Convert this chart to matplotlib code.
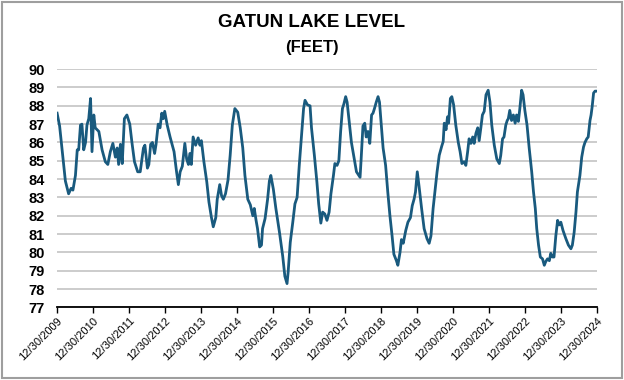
import matplotlib
matplotlib.use("Agg")
import matplotlib.pyplot as plt
import matplotlib.dates as mdates
from matplotlib.patches import Rectangle
import pandas as pd

# ── data: years elapsed since 12/30/2009, lake level in feet ─────────────────
elapsed_years = [
    0.00, 0.07, 0.17, 0.23, 0.32, 0.39, 0.44, 0.51, 0.56, 0.60, 0.65, 0.69, 0.74, 0.79,
    0.83, 0.88, 0.93, 0.97, 1.02, 1.06, 1.16, 1.25, 1.34, 1.41, 1.48, 1.55, 1.62, 1.67,
    1.71, 1.76, 1.81, 1.87, 1.94, 2.02, 2.08, 2.15, 2.24, 2.31, 2.40, 2.44, 2.51, 2.55,
    2.60, 2.65, 2.71, 2.75, 2.81, 2.86, 2.91, 2.95, 2.99, 3.06, 3.14, 3.25, 3.32, 3.37,
    3.42, 3.48, 3.55, 3.60, 3.65, 3.69, 3.73, 3.78, 3.85, 3.92, 3.97, 4.01, 4.08, 4.16,
    4.22, 4.29, 4.34, 4.41, 4.45, 4.52, 4.57, 4.62, 4.68, 4.75, 4.81, 4.87, 4.94, 5.02,
    5.09, 5.16, 5.22, 5.30, 5.37, 5.44, 5.48, 5.53, 5.57, 5.63, 5.68, 5.71, 5.78, 5.85,
    5.90, 5.94, 6.01, 6.08, 6.18, 6.27, 6.33, 6.39, 6.42, 6.48, 6.55, 6.61, 6.67, 6.73,
    6.80, 6.85, 6.89, 6.96, 7.03, 7.07, 7.15, 7.22, 7.27, 7.33, 7.38, 7.44, 7.50, 7.56,
    7.61, 7.68, 7.72, 7.78, 7.83, 7.88, 7.93, 7.97, 8.02, 8.06, 8.11, 8.18, 8.25, 8.32,
    8.42, 8.45, 8.50, 8.55, 8.59, 8.64, 8.69, 8.74, 8.78, 8.82, 8.87, 8.92, 8.96, 9.01,
    9.06, 9.13, 9.19, 9.25, 9.31, 9.36, 9.43, 9.47, 9.53, 9.57, 9.62, 9.69, 9.75, 9.82,
    9.87, 9.92, 9.96, 10.01, 10.06, 10.13, 10.20, 10.28, 10.34, 10.39, 10.45, 10.51,
    10.56, 10.62, 10.69, 10.73, 10.76, 10.81, 10.85, 10.88, 10.93, 10.97, 11.02, 11.08,
    11.15, 11.20, 11.25, 11.31, 11.36, 11.41, 11.45, 11.50, 11.55, 11.59, 11.64, 11.69,
    11.73, 11.78, 11.82, 11.87, 11.92, 11.98, 12.03, 12.08, 12.15, 12.22, 12.29, 12.33,
    12.38, 12.42, 12.47, 12.51, 12.54, 12.58, 12.63, 12.68, 12.73, 12.77, 12.82, 12.86,
    12.91, 12.95, 13.00, 13.06, 13.12, 13.19, 13.24, 13.29, 13.33, 13.38, 13.43, 13.49,
    13.54, 13.58, 13.63, 13.68, 13.72, 13.77, 13.81, 13.86, 13.91, 13.95, 14.00, 14.06,
    14.14, 14.21, 14.28, 14.32, 14.37, 14.42, 14.46, 14.53, 14.58, 14.63, 14.67, 14.72,
    14.76, 14.81, 14.84, 14.87, 14.91, 14.95, 15.00,
]
level_ft = [
    87.6, 86.9, 85.0, 83.9, 83.2, 83.5, 83.4, 84.2, 85.6, 85.6, 86.95, 87.0, 85.6, 86.0,
    86.95, 87.3, 88.4, 85.5, 87.5, 86.8, 86.6, 85.6, 84.95, 84.8, 85.5, 85.95, 85.2, 85.7,
    84.8, 85.9, 84.85, 87.3, 87.5, 87.0, 86.0, 84.95, 84.4, 84.4, 85.7, 85.85, 84.6, 84.8,
    85.9, 86.0, 85.4, 85.9, 87.0, 86.8, 87.6, 87.3, 87.7, 86.95, 86.3, 85.5, 84.4, 83.7,
    84.4, 84.7, 85.95, 85.1, 84.8, 85.4, 84.8, 86.3, 85.85, 86.25, 85.85, 86.1, 84.95, 83.85,
    82.75, 81.9, 81.4, 81.9, 82.9, 83.7, 83.1, 82.9, 83.2, 83.95, 85.3, 86.95, 87.85, 87.65,
    86.8, 85.7, 84.2, 82.9, 82.6, 82.0, 82.4, 81.75, 81.3, 80.3, 80.4, 81.3, 81.85, 82.9,
    83.9, 84.2, 83.45, 82.4, 81.1, 79.8, 78.7, 78.3, 78.9, 80.55, 81.65, 82.65, 83.0, 84.75,
    86.6, 87.85, 88.3, 88.05, 88.0, 86.8, 85.3, 83.85, 82.65, 81.6, 82.2, 82.1, 81.75, 82.2,
    83.2, 84.2, 84.85, 84.75, 85.0, 86.6, 87.85, 88.1, 88.5, 88.2, 87.3, 86.0, 85.2, 84.4,
    84.1, 85.1, 86.9, 87.05, 86.3, 86.6, 85.95, 87.5, 87.6, 87.85, 88.2, 88.5, 88.2, 86.95,
    85.7, 84.75, 83.3, 82.0, 80.9, 79.9, 79.55, 79.3, 80.0, 80.7, 80.5, 81.2, 81.65, 81.9,
    82.55, 82.9, 83.3, 84.4, 83.6, 82.4, 81.3, 80.75, 80.5, 80.9, 82.4, 83.5,
    84.4, 85.3, 85.8, 86.05, 87.05, 86.7, 87.4, 87.05, 88.4, 88.5, 88.05, 86.95,
    86.0, 85.5, 84.85, 84.95, 84.75, 85.5, 86.2, 85.95, 86.3, 85.95, 86.5, 86.8,
    86.1, 86.85, 87.5, 87.7, 88.6, 88.85, 88.2, 86.95, 85.85, 85.1, 84.85, 85.3,
    86.2, 86.3, 86.95, 87.2, 87.3, 87.75, 87.2, 87.5, 87.05, 87.5, 87.15, 87.85,
    88.85, 88.6, 87.75, 86.95, 85.7, 84.4, 83.3, 82.4, 81.3, 80.4, 79.75, 79.65,
    79.3, 79.5, 79.65, 79.55, 79.95, 79.75, 79.75, 80.9, 81.75, 81.5, 81.65, 81.2,
    80.75, 80.4, 80.2, 80.4, 81.1, 82.2, 83.3, 84.2, 85.2, 85.75, 86.0, 86.2,
    86.3, 87.2, 87.5, 87.95, 88.7, 88.8, 88.8,
]
tick_years = list(range(2009, 2025))
y_ticks = list(range(77, 91))

start = pd.Timestamp("2009-12-30")
dates = [start + pd.Timedelta(days=t * 365.25) for t in elapsed_years]
tick_dates = [pd.Timestamp(f"{y}-12-30") for y in tick_years]

LINE = "#195A7E"
GRID = "#BFBFBF"

fig = plt.figure(figsize=(6.24, 3.80), dpi=100)
fig.patch.set_facecolor("white")
ax = fig.add_axes([0.0915, 0.191, 0.865, 0.627])

ax.plot(dates, level_ft, color=LINE, linewidth=2.0, solid_joinstyle="round", zorder=3)

ax.set_ylim(77, 90)
ax.set_yticks(y_ticks)
ax.set_xlim(tick_dates[0], tick_dates[-1])
ax.set_xticks(tick_dates)
ax.xaxis.set_major_formatter(mdates.DateFormatter("%m/%d/%Y"))

ax.grid(axis="y", color=GRID, linewidth=1.1, zorder=0)
ax.set_axisbelow(True)
for s in ["left", "right", "top"]:
    ax.spines[s].set_visible(False)
ax.spines["bottom"].set_color("black")
ax.spines["bottom"].set_linewidth(1.3)

ax.tick_params(axis="y", length=0, pad=9)
ax.tick_params(axis="x", length=4, width=1.0, color="black", pad=2)
for lab in ax.get_yticklabels():
    lab.set_fontfamily("Liberation Sans")
    lab.set_fontweight("bold")
    lab.set_fontsize(10.5)
for lab in ax.get_xticklabels():
    lab.set_fontfamily("Liberation Sans")
    lab.set_fontsize(8)
    lab.set_rotation(45)
    lab.set_ha("right")
    lab.set_rotation_mode("anchor")

# ── titles ──────────────────────────────────────────────────────────────────
title_fonts = ["Liberation Sans Narrow", "Liberation Sans", "DejaVu Sans"]
fig.text(0.5, 0.942, "GATUN LAKE LEVEL", ha="center", va="center",
         fontsize=13.5, fontweight="bold", family=title_fonts)
fig.text(0.5, 0.875, "(FEET)", ha="center", va="center",
         fontsize=12, fontweight="bold", family=title_fonts)

# outer frame
fig.patches.append(Rectangle((0.004, 0.006), 0.992, 0.988, transform=fig.transFigure,
                             fill=False, edgecolor="#9E9E9E", linewidth=1.5))

fig.savefig("out.png", dpi=100, facecolor="white")
